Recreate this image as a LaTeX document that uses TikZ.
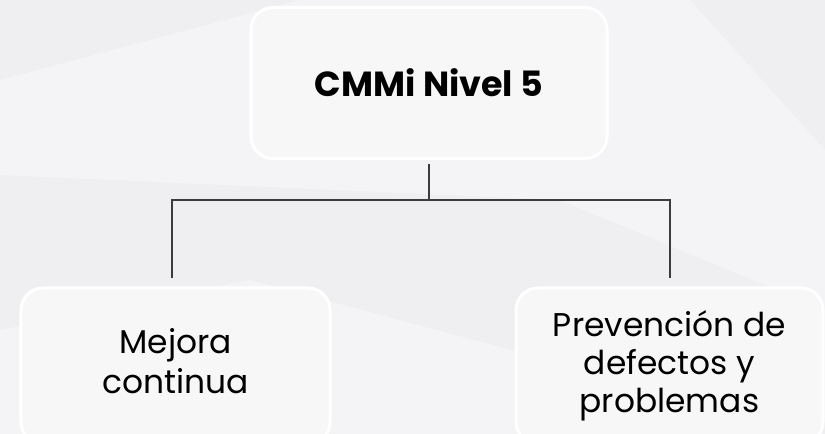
\documentclass[tikz,border=0pt]{standalone}
\usepackage{fontspec}
\setmainfont{Poppins}
\definecolor{bgbase}{HTML}{EFEFF1}
\definecolor{bglight}{HTML}{F4F4F6}
\definecolor{boxfill}{HTML}{F7F7F8}
\definecolor{linecol}{HTML}{3C3C3C}
\tikzset{
  card/.style={draw=white, line width=3bp, fill=boxfill, rounded corners=22bp, align=center, inner sep=0pt, font=\fontsize{33}{38}\selectfont, text=black},
  conn/.style={draw=linecol, line width=2bp}
}
\begin{document}
\begin{tikzpicture}[x=1bp,y=-1bp]
\useasboundingbox (0,0) rectangle (825,434);
\fill[bgbase] (0,0) rectangle (825,434);
\fill[bglight] (300,0) -- (690,0) -- (825,150) -- (825,310) -- (560,200) -- (0,175) -- (0,80) -- cycle;
\fill[bglight] (0,330) -- (250,280) -- (825,434) -- (0,434) -- cycle;
\node[card, minimum width=356bp, minimum height=151bp, font=\fontsize{35}{42}\selectfont\bfseries] (top) at (429,83) {CMMi Nivel 5};
\node[card, minimum width=309bp, minimum height=156bp, font=\fontsize{33}{40}\selectfont] (left) at (175.5,366) {};
\node[align=center, inner sep=0pt, font=\fontsize{33}{40}\selectfont] (lefttext) at (175.5,361) {Mejora\\continua};
\node[card, minimum width=307bp, minimum height=156bp] (right) at (669.5,366) {Prevención de\\defectos y\\problemas};
\coordinate (jc) at (429,200);
\coordinate (jl) at (172,278);
\coordinate (jr) at (670,278);
\draw[conn] ([yshift=-4bp]top.south) -- (jc);
\draw[conn] (jc) -| (jl);
\draw[conn] (jc) -| (jr);
\end{tikzpicture}
\end{document}
